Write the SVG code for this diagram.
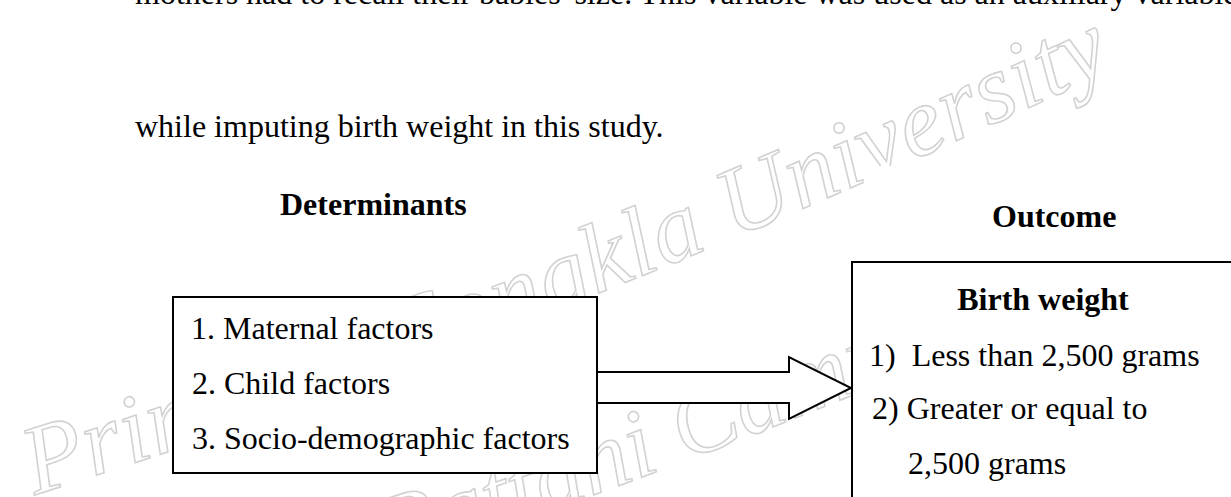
<svg xmlns="http://www.w3.org/2000/svg" width="1231" height="497" viewBox="0 0 1231 497">
<defs>
<style>
.t{font-family:"Liberation Serif","Times New Roman",serif;font-size:32px;fill:#000}
.b{font-weight:bold}
.box{fill:#fff;stroke:#000;stroke-width:2}
.wm{font-family:"Liberation Serif","Times New Roman",serif;font-style:italic;font-size:98px;fill:none;stroke:#d2d2d2;stroke-width:1.6}
</style>
<path id="wm1" d="M35,495 Q560,330 1110,70"/>
<path id="wm2" d="M390,565 Q640,485 1000,335"/>
</defs>
<rect width="1231" height="497" fill="#fff"/>
<g id="watermark">
<text class="wm" letter-spacing="1"><textPath href="#wm1">Prince of Songkla University</textPath></text>
<text class="wm"><textPath href="#wm2">Pattani Campus</textPath></text>
</g>
<g id="paragraph">
<text class="t" x="135" y="4">mothers had to recall their babies' size. This variable was used as an auxiliary variable</text>
<text class="t" x="135" y="137">while imputing birth weight in this study.</text>
</g>
<rect x="864" y="166" width="367" height="96" fill="#fff"/>
<g id="heading-determinants"><text class="t b" x="280" y="215">Determinants</text></g>
<g id="heading-outcome"><text class="t b" x="992" y="227">Outcome</text></g>
<g id="determinants">
<rect class="box" x="173" y="297" width="424" height="176"/>
<text class="t" x="191" y="339">1. Maternal factors</text>
<text class="t" x="192" y="394">2. Child factors</text>
<text class="t" x="192" y="449">3. Socio-demographic factors</text>
</g>
<g id="outcome">
<rect class="box" x="852" y="262" width="420" height="300"/>
<text class="t b" x="1043" y="310" text-anchor="middle">Birth weight</text>
<text class="t" x="869" y="366" xml:space="preserve" style="white-space:pre">1)  Less than 2,500 grams</text>
<text class="t" x="872" y="419">2) Greater or equal to</text>
<text class="t" x="908" y="474">2,500 grams</text>
</g>
<g id="connectors">
<polygon class="box" points="597,372 789,372 789,357 851,388 789,419 789,403 597,403"/>
</g>
</svg>
